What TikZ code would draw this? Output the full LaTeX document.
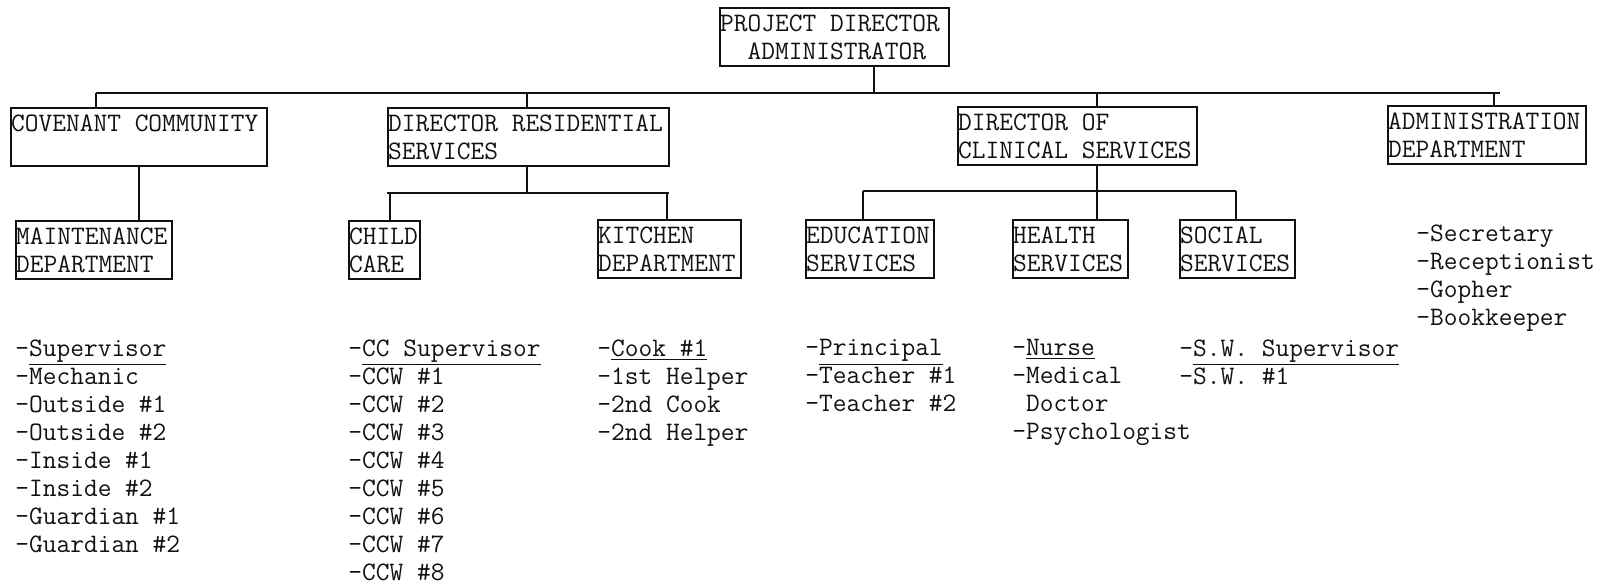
\documentclass[tikz,border=0pt]{standalone}
\usepackage{tikz}
\usetikzlibrary{arrows}
\usepackage{color}
\definecolor{ink}{RGB}{17, 17, 17}
\newcommand{\chartfont}{\ttfamily\fontsize{13.33}{14}\selectfont}

\begin{document}
\begin{tikzpicture}[x=0.5pt, y=-0.5pt,
        unit/.style={draw=ink, line width=1.2pt, anchor=north west, inner xsep=0pt, inner ysep=1pt, align=flush left, minimum height=29pt, font=\chartfont, text=ink},
        staff/.style={anchor=north west, inner sep=0pt, align=left, font=\chartfont, text=ink},
        link/.style={draw=ink, line width=1.2pt}]
            % Frame to ensure alignment:
            \useasboundingbox (0,0) rectangle (1615,585);
            % Top
            \node[unit, text width=114.4pt] (proj)    at ( 719,  7) {PROJECT DIRECTOR\\\phantom{PR}ADMINISTRATOR};
            % Departments
            \node[unit, text width=127.9pt] (cov)     at (  10,107) {COVENANT COMMUNITY\\\mbox{}};
            \node[unit, text width=140.4pt] (res)     at ( 387,107) {DIRECTOR RESIDENTIAL\\SERVICES};
            \node[unit, text width=119.4pt] (clin)    at ( 957,106) {DIRECTOR OF\\CLINICAL SERVICES};
            \node[unit, text width=98.9pt]  (adm)     at (1387,105) {ADMINISTRATION\\DEPARTMENT};
            % Sections
            \node[unit, text width=77.9pt]  (maint)   at (  15,220) {MAINTENANCE\\DEPARTMENT};
            \node[unit, text width=35.4pt]  (child)   at ( 348,220) {CHILD\\CARE};
            \node[unit, text width=71.4pt]  (kitchen) at ( 597,219) {KITCHEN\\DEPARTMENT};
            \node[unit, text width=63.9pt]  (edu)     at ( 805,219) {EDUCATION\\SERVICES};
            \node[unit, text width=57.4pt]  (health)  at (1012,219) {HEALTH\\SERVICES};
            \node[unit, text width=57.4pt]  (social)  at (1179,219) {SOCIAL\\SERVICES};
            % Main bus
            \coordinate (tcov)   at (  96, 93);
            \coordinate (tres)   at ( 527, 93);
            \coordinate (tproj)  at ( 874, 93);
            \coordinate (tclin)  at (1097, 93);
            \coordinate (tadm)   at (1494, 93);
            \coordinate (busend) at (1500, 93);
            \draw[link] (tcov) -- (busend);
            \draw[link] (tproj) -- (tproj |- proj.south);
            \draw[link] (tcov)  -- (tcov  |- cov.north);
            \draw[link] (tres)  -- (tres  |- res.north);
            \draw[link] (tclin) -- (tclin |- clin.north);
            \draw[link] (tadm)  -- (tadm  |- adm.north);
            % Covenant branch
            \coordinate (tmaint) at (139,200);
            \draw[link] (tmaint |- cov.south) -- (tmaint |- maint.north);
            % Residential branch
            \coordinate (rL)     at (387,193);
            \coordinate (rR)     at (669,193);
            \coordinate (tchild) at (390,193);
            \coordinate (tkit)   at (667,193);
            \draw[link] (rL) -- (rR);
            \draw[link] (tres |- res.south) -- (tres |- rL);
            \draw[link] (tchild) -- (tchild |- child.north);
            \draw[link] (tkit)   -- (tkit   |- kitchen.north);
            % Clinical branch
            \coordinate (cL) at ( 863,191);
            \coordinate (cR) at (1236,191);
            \draw[link] (cL) -- (cR);
            \draw[link] (tclin |- clin.south) -- (tclin |- health.north);
            \draw[link] (cL) -- (cL |- edu.north);
            \draw[link] (cR) -- (cR |- social.north);
            % Staff lists
            \node[staff] (maintstaff)   at (  15,339) {-\underline{Supervisor}\\-Mechanic\\-Outside \#1\\-Outside \#2\\-Inside \#1\\-Inside \#2\\-Guardian \#1\\-Guardian \#2};
            \node[staff] (childstaff)   at ( 348,339) {-\underline{CC Supervisor}\\-CCW \#1\\-CCW \#2\\-CCW \#3\\-CCW \#4\\-CCW \#5\\-CCW \#6\\-CCW \#7\\-CCW \#8};
            \node[staff] (kitchenstaff) at ( 597,339) {-\underline{Cook \#1}\\-1st Helper\\-2nd Cook\\-2nd Helper};
            \node[staff] (edustaff)     at ( 805,339) {-\underline{Principal}\\-Teacher \#1\\-Teacher \#2};
            \node[staff] (healthstaff)  at (1012,339) {-\underline{Nurse}\\-Medical\\\phantom{-}Doctor\\-Psychologist};
            \node[staff] (socialstaff)  at (1179,339) {-\underline{S.W. Supervisor}\\-S.W. \#1};
            \node[staff] (admstaff)     at (1416,224) {-Secretary\\-Receptionist\\-Gopher\\-Bookkeeper};
\end{tikzpicture}
\end{document}
